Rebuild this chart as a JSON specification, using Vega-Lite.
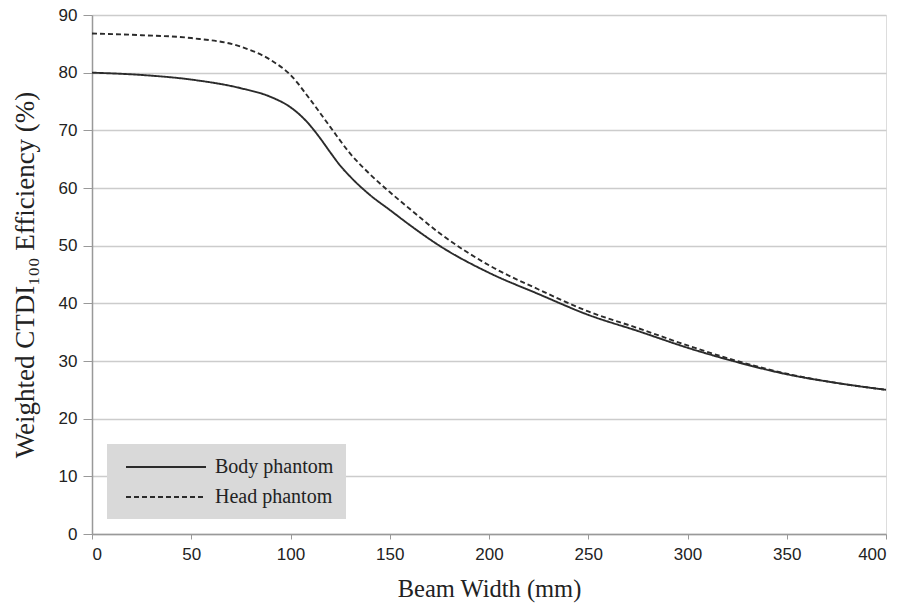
{
  "$schema": "https://vega.github.io/schema/vega-lite/v6.json",
  "width": 794,
  "height": 519,
  "autosize": {"type": "none"},
  "padding": {"left": 92, "top": 15, "right": 17, "bottom": 76},
  "background": "white",
  "data": {
    "values": [
      {"beam": 0, "eff": 80.0, "phantom": "Body phantom"},
      {"beam": 25, "eff": 79.6, "phantom": "Body phantom"},
      {"beam": 50, "eff": 78.8, "phantom": "Body phantom"},
      {"beam": 75, "eff": 77.3, "phantom": "Body phantom"},
      {"beam": 90, "eff": 75.8, "phantom": "Body phantom"},
      {"beam": 100, "eff": 74.0, "phantom": "Body phantom"},
      {"beam": 105, "eff": 72.6, "phantom": "Body phantom"},
      {"beam": 110, "eff": 70.8, "phantom": "Body phantom"},
      {"beam": 115, "eff": 68.6, "phantom": "Body phantom"},
      {"beam": 120, "eff": 66.2, "phantom": "Body phantom"},
      {"beam": 125, "eff": 63.9, "phantom": "Body phantom"},
      {"beam": 130, "eff": 62.0, "phantom": "Body phantom"},
      {"beam": 140, "eff": 58.8, "phantom": "Body phantom"},
      {"beam": 150, "eff": 56.2, "phantom": "Body phantom"},
      {"beam": 160, "eff": 53.6, "phantom": "Body phantom"},
      {"beam": 175, "eff": 50.0, "phantom": "Body phantom"},
      {"beam": 200, "eff": 45.3, "phantom": "Body phantom"},
      {"beam": 225, "eff": 41.6, "phantom": "Body phantom"},
      {"beam": 250, "eff": 38.0, "phantom": "Body phantom"},
      {"beam": 275, "eff": 35.2, "phantom": "Body phantom"},
      {"beam": 300, "eff": 32.3, "phantom": "Body phantom"},
      {"beam": 325, "eff": 29.8, "phantom": "Body phantom"},
      {"beam": 350, "eff": 27.7, "phantom": "Body phantom"},
      {"beam": 375, "eff": 26.2, "phantom": "Body phantom"},
      {"beam": 400, "eff": 25.0, "phantom": "Body phantom"},
      {"beam": 0, "eff": 86.8, "phantom": "Head phantom"},
      {"beam": 25, "eff": 86.5, "phantom": "Head phantom"},
      {"beam": 50, "eff": 86.0, "phantom": "Head phantom"},
      {"beam": 75, "eff": 84.5, "phantom": "Head phantom"},
      {"beam": 90, "eff": 82.2, "phantom": "Head phantom"},
      {"beam": 100, "eff": 79.6, "phantom": "Head phantom"},
      {"beam": 110, "eff": 75.3, "phantom": "Head phantom"},
      {"beam": 120, "eff": 70.6, "phantom": "Head phantom"},
      {"beam": 130, "eff": 66.0, "phantom": "Head phantom"},
      {"beam": 140, "eff": 62.4, "phantom": "Head phantom"},
      {"beam": 150, "eff": 59.3, "phantom": "Head phantom"},
      {"beam": 160, "eff": 56.4, "phantom": "Head phantom"},
      {"beam": 175, "eff": 52.2, "phantom": "Head phantom"},
      {"beam": 200, "eff": 46.6, "phantom": "Head phantom"},
      {"beam": 225, "eff": 42.4, "phantom": "Head phantom"},
      {"beam": 250, "eff": 38.6, "phantom": "Head phantom"},
      {"beam": 275, "eff": 35.7, "phantom": "Head phantom"},
      {"beam": 300, "eff": 32.7, "phantom": "Head phantom"},
      {"beam": 325, "eff": 30.0, "phantom": "Head phantom"},
      {"beam": 350, "eff": 27.8, "phantom": "Head phantom"},
      {"beam": 375, "eff": 26.2, "phantom": "Head phantom"},
      {"beam": 400, "eff": 25.0, "phantom": "Head phantom"}
    ]
  },
  "mark": {"type": "line", "interpolate": "monotone", "color": "#2b2b2b", "strokeWidth": 1.9},
  "encoding": {
    "x": {
      "field": "beam",
      "type": "quantitative",
      "scale": {"domain": [0, 400], "nice": false},
      "axis": {
        "title": "Beam Width (mm)",
        "values": [0, 50, 100, 150, 200, 250, 300, 350, 400],
        "grid": false,
        "domainColor": "#999999",
        "domainWidth": 1.5,
        "tickColor": "#999999",
        "tickSize": 5,
        "labelFont": "Liberation Sans",
        "labelFontSize": 17,
        "labelColor": "#222222",
        "labelPadding": 7,
        "titleFont": "Liberation Serif",
        "titleFontSize": 24.5,
        "titleFontWeight": "normal",
        "titleColor": "#222222",
        "titlePadding": 15
      }
    },
    "y": {
      "field": "eff",
      "type": "quantitative",
      "scale": {"domain": [0, 90], "nice": false},
      "axis": {
        "title": "Weighted CTDI₁₀₀ Efficiency (%)",
        "values": [0, 10, 20, 30, 40, 50, 60, 70, 80, 90],
        "gridColor": "#cccccc",
        "gridWidth": 1.5,
        "domainColor": "#999999",
        "domainWidth": 1.5,
        "tickColor": "#999999",
        "tickSize": 9,
        "labelFont": "Liberation Sans",
        "labelFontSize": 17,
        "labelColor": "#222222",
        "labelPadding": 6,
        "titleFont": "Liberation Serif",
        "titleFontSize": 27,
        "titleFontWeight": "normal",
        "titleColor": "#222222",
        "titlePadding": 19
      }
    },
    "strokeDash": {
      "field": "phantom",
      "type": "nominal",
      "scale": {"domain": ["Body phantom", "Head phantom"], "range": [[1, 0], [5, 3]]},
      "legend": {
        "title": null,
        "orient": "bottom-left",
        "offset": 15,
        "fillColor": "#d9d9d9",
        "padding": 12,
        "symbolType": "M-0.4,0H7.6",
        "symbolSize": 400,
        "symbolStrokeColor": "#2b2b2b",
        "symbolStrokeWidth": 1.9,
        "symbolFillColor": "transparent",
        "labelFont": "Liberation Serif",
        "labelFontSize": 20,
        "labelColor": "#222222",
        "labelOffset": 74,
        "rowPadding": 9
      }
    }
  }
}
